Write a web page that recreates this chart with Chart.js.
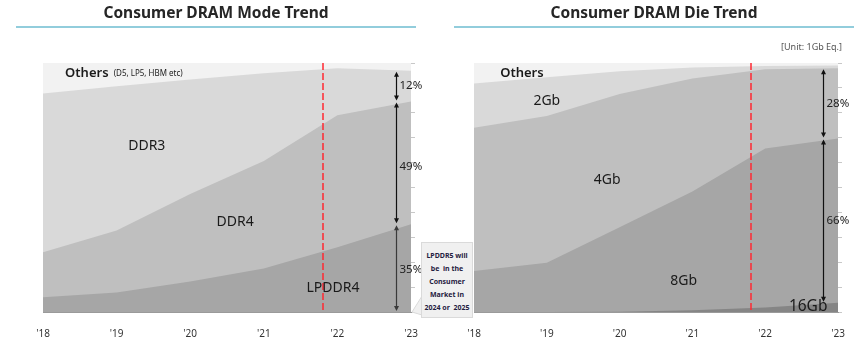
<!DOCTYPE html>
<html>
<head>
<meta charset="utf-8">
<script src="https://cdn.jsdelivr.net/npm/chart.js@4.4.1/dist/chart.umd.min.js"></script>
<style>
  body { margin: 0; background: #fff; font-family: "Noto Sans", sans-serif; }
  #wrap { position: relative; width: 863px; height: 341px; overflow: hidden; }
  canvas { position: absolute; top: 0; }
  .title { position: absolute; top: 0; height: 24px; line-height: 24px; font-size: 15.5px; font-weight: bold; color: #262626; text-align: center; }
  .rule { position: absolute; top: 26px; height: 2px; background: #92cddc; }
  #unit { position: absolute; right: 21px; top: 40px; font-size: 9px; color: #555; }
  #note { position: absolute; left: 421px; top: 242px; width: 52px; height: 76px; box-sizing: border-box; background: #f0f0f0; border: 1px solid #dadada; font-size: 7px; font-weight: bold; color: #1f2040; text-align: center; line-height: 13px; padding-top: 6px; white-space: nowrap; }
  #tail { position: absolute; left: 405px; top: 290px; }
</style>
</head>
<body>
<div id="wrap">
  <canvas id="modeChart" width="431" height="341" style="left:0"></canvas>
  <canvas id="dieChart" width="432" height="341" style="left:431px"></canvas>

  <div class="title" style="left:16px;width:400px">Consumer DRAM Mode Trend</div>
  <div class="rule" style="left:16px;width:400px"></div>
  <div class="title" style="left:454px;width:400px">Consumer DRAM Die Trend</div>
  <div class="rule" style="left:454px;width:400px"></div>
  <div id="unit">[Unit: 1Gb Eq.]</div>

  <svg id="tail" width="20" height="30">
    <polygon points="17,6 7,22 17,25" fill="#f0f0f0" stroke="#dadada" stroke-width="1"/>
  </svg>
  <div id="note">LPDDR5 will<br>be&nbsp; in the<br>Consumer<br>Market in<br>2024 or&nbsp; 2025</div>
</div>

<script>
const years = ["'18", "'19", "'20", "'21", "'22", "'23"];

// Mode mix, % of consumer DRAM (bottom to top)
const modeLpddr4 = [5.9, 7.8, 12.2, 17.5, 26, 35.2];
const modeDdr4 = [18.1, 24.9, 35.2, 43.1, 53, 49.3];
const modeDdr3 = [63.8, 58, 46, 35.3, 18.9, 12.4];
const modeOthers = [12.2, 9.3, 6.6, 4.1, 2.1, 3.1];

// Die density mix, % in 1Gb equivalent (bottom to top)
const die16Gb = [0, 0, 0.1, 0.7, 1.8, 3.7];
const die8Gb = [16.5, 19.8, 33.9, 47.7, 63.9, 66];
const die4Gb = [57.5, 58.9, 53.6, 45.4, 31.8, 28.2];
const die2Gb = [17.8, 15.6, 9.1, 4.4, 1.3, 1.1];
const dieOthers = [8.2, 5.7, 3.3, 1.8, 1.2, 1.0];

// actual/forecast boundary, in category index units
const forecastAt = 3.8;
const arrowAt = 4.8;

Chart.defaults.font.family = '"Noto Sans", sans-serif';

function drawArrow(ctx, x, top, bottom, color) {
    const head = 5, half = 2.5;
    ctx.strokeStyle = color;
    ctx.fillStyle = color;
    ctx.lineWidth = 1.2;
    ctx.beginPath();
    ctx.moveTo(x, top + 2);
    ctx.lineTo(x, bottom - 2);
    ctx.stroke();
    ctx.beginPath();
    ctx.moveTo(x, top);
    ctx.lineTo(x - half, top + head);
    ctx.lineTo(x + half, top + head);
    ctx.closePath();
    ctx.fill();
    ctx.beginPath();
    ctx.moveTo(x, bottom);
    ctx.lineTo(x - half, bottom - head);
    ctx.lineTo(x + half, bottom - head);
    ctx.closePath();
    ctx.fill();
}

const overlayPlugin = {
    id: "overlay",
    afterDatasetsDraw(chart, args, opts) {
        const { ctx, chartArea, scales } = chart;
        const xs = scales.x, ys = scales.y;
        const datasets = chart.data.datasets;
        const last = chart.data.labels.length - 1;

        ctx.save();

        // dashed divider between actuals and forecast
        const fx = Math.round(xs.getPixelForValue(forecastAt));
        ctx.strokeStyle = "rgb(255, 40, 50)";
        ctx.lineWidth = 1.5;
        ctx.setLineDash([7, 3]);
        ctx.beginPath();
        ctx.moveTo(fx, chartArea.top);
        ctx.lineTo(fx, chartArea.bottom);
        ctx.stroke();
        ctx.setLineDash([]);

        // share arrows for the final year
        const ax = Math.round(xs.getPixelForValue(arrowAt)) + 0.5;
        ctx.font = "11.5px 'Noto Sans', sans-serif";
        ctx.textBaseline = "middle";
        ctx.textAlign = "left";
        opts.arrows.forEach((a) => {
            let base = 0;
            for (let i = 0; i < a.index; i++) base += datasets[i].data[last];
            const value = datasets[a.index].data[last];
            const top = ys.getPixelForValue(base + value) + 1;
            const bottom = ys.getPixelForValue(base) - 1;
            drawArrow(ctx, ax, top, bottom, a.color);
            ctx.fillStyle = "#222";
            ctx.fillText(Math.round(value) + "%", ax + 3, (top + bottom) / 2 + a.dy);
        });

        // series names inside the bands
        opts.labels.forEach((l) => {
            ctx.font = (l.weight || "normal") + " " + l.size + "px 'Noto Sans', sans-serif";
            ctx.fillStyle = "#1a1a1a";
            ctx.textAlign = l.align || "center";
            ctx.fillText(l.text, xs.getPixelForValue(l.at), ys.getPixelForValue(l.level));
        });

        ctx.restore();
    },
};

function makeDatasets(series) {
    return series.map((s) => ({
        label: s.label,
        data: s.data,
        backgroundColor: s.color,
        borderColor: s.color,
        borderWidth: 0,
        pointRadius: 0,
        fill: "origin",
        tension: 0,
    }));
}

function makeChart(canvasId, series, padLeft, padRight, overlay) {
    return new Chart(document.getElementById(canvasId), {
        type: "line",
        data: { labels: years, datasets: makeDatasets(series) },
        options: {
            responsive: false,
            animation: false,
            events: [],
            layout: { padding: { left: padLeft, right: padRight, top: 63, bottom: 0 } },
            plugins: {
                legend: { display: false },
                tooltip: { enabled: false },
                overlay: overlay,
            },
            scales: {
                x: {
                    grid: { display: false },
                    border: { display: true, color: "#9a9a9a" },
                    ticks: { color: "#333", font: { size: 10 }, padding: 8, maxRotation: 0, autoSkip: false },
                    afterFit(scale) { scale.height = 29; },
                },
                y: {
                    stacked: true,
                    min: 0,
                    max: 100,
                    grid: { display: false },
                    border: { display: true, color: "#9a9a9a" },
                    ticks: { display: false },
                    afterFit(scale) { scale.width = 0; },
                },
                y2: {
                    position: "right",
                    min: 0,
                    max: 100,
                    ticks: { display: false, stepSize: 10 },
                    grid: { drawOnChartArea: false, drawTicks: true, tickLength: 4, color: "#c8c8c8" },
                    border: { display: false },
                    afterFit(scale) { scale.width = 4; },
                },
            },
        },
        plugins: [overlayPlugin],
    });
}

makeChart("modeChart", [
    { label: "LPDDR4", data: modeLpddr4, color: "#a6a6a6" },
    { label: "DDR4", data: modeDdr4, color: "#bfbfbf" },
    { label: "DDR3", data: modeDdr3, color: "#d9d9d9" },
    { label: "Others", data: modeOthers, color: "#f2f2f2" },
], 43, 16, {
    arrows: [
        { index: 2, color: "#111", dy: 0 },
        { index: 1, color: "#111", dy: 4 },
        { index: 0, color: "#3a3a3a", dy: 2 },
    ],
    labels: [
        { text: "Others", at: 0.3, level: 96, size: 13, weight: "600", align: "left" },
        { text: "(D5, LP5, HBM etc)", at: 0.96, level: 95.6, size: 8, align: "left" },
        { text: "DDR3", at: 1.41, level: 66.7, size: 14 },
        { text: "DDR4", at: 2.61, level: 36.1, size: 14 },
        { text: "LPDDR4", at: 3.94, level: 9.6, size: 14 },
    ],
});

makeChart("dieChart", [
    { label: "16Gb", data: die16Gb, color: "#858585" },
    { label: "8Gb", data: die8Gb, color: "#a6a6a6" },
    { label: "4Gb", data: die4Gb, color: "#bfbfbf" },
    { label: "2Gb", data: die2Gb, color: "#d9d9d9" },
    { label: "Others", data: dieOthers, color: "#f2f2f2" },
], 43, 21, {
    arrows: [
        { index: 2, color: "#111", dy: 0 },
        { index: 1, color: "#111", dy: 0 },
    ],
    labels: [
        { text: "Others", at: 0.36, level: 96, size: 13, weight: "600", align: "left" },
        { text: "2Gb", at: 1.0, level: 84.7, size: 14 },
        { text: "4Gb", at: 1.83, level: 53, size: 14 },
        { text: "8Gb", at: 2.88, level: 12.4, size: 14 },
        { text: "16Gb", at: 4.59, level: 2, size: 15.5 },
    ],
});
</script>
</body>
</html>
